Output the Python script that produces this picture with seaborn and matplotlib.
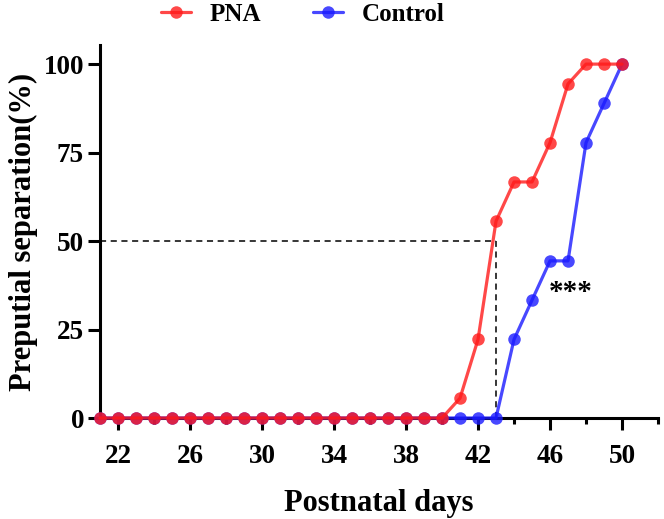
import numpy as np
import pandas as pd
import matplotlib
matplotlib.use('Agg')
import matplotlib.pyplot as plt
import seaborn as sns

# ---- data ----
days = list(range(21, 51))
pna = [0]*20 + [5.6, 22.2, 55.6, 66.7, 66.7, 77.8, 94.4, 100, 100, 100]
control = [0]*23 + [22.2, 33.3, 44.4, 44.4, 77.8, 88.9, 100]
half_day = 43      # day when PNA group reaches 50%
x_ticks = list(range(22, 51, 4))
x_minor = list(range(24, 53, 4))
y_ticks = [0, 25, 50, 75, 100]

df = pd.DataFrame({
    'day': days * 2,
    'pct': control + pna,
    'group': ['Control'] * len(days) + ['PNA'] * len(days),
})

sns.set_style("ticks", {'axes.edgecolor': 'black', 'text.color': 'black',
                        'xtick.color': 'black', 'ytick.color': 'black',
                        'axes.labelcolor': 'black'})
plt.rcParams['font.family'] = ['Liberation Serif', 'DejaVu Serif']
plt.rcParams['font.weight'] = 'bold'

fig = plt.figure(figsize=(6.64, 5.19), dpi=100)
ax = fig.add_axes([0.1506, 0.1946, 0.8404, 0.7187])

palette = {'PNA': '#FF1A1A', 'Control': '#1A1AFF'}
sns.lineplot(data=df, x='day', y='pct', hue='group', hue_order=['Control', 'PNA'],
             palette=palette, marker='o', markersize=9, markeredgewidth=0,
             linewidth=2.3, alpha=0.8, ax=ax, clip_on=False, zorder=3)

# dashed guide lines at 50%
ax.plot([21, half_day], [50, 50], color='black', ls=(0, (4, 3)), lw=1.1, zorder=2)
ax.plot([half_day, half_day], [0, 50], color='black', ls=(0, (4, 3)), lw=1.1, zorder=2)

ax.text(47.15, 35.4, '***', ha='center', va='center', fontsize=21, fontweight='bold')

ax.set_xlim(21, 52)
ax.set_ylim(0, 105.4)
ax.set_xticks(x_ticks)
ax.set_xticks(x_minor, minor=True)
ax.set_yticks(y_ticks)
ax.tick_params(axis='both', which='major', length=8.5, width=2.2, labelsize=19.5)
ax.tick_params(axis='x', which='major', pad=10.5)
ax.tick_params(axis='y', which='major', pad=3)
ax.tick_params(axis='x', which='minor', length=4.5, width=2.2)
for lab in ax.get_xticklabels() + ax.get_yticklabels():
    lab.set_fontweight('bold')

sns.despine(ax=ax)
for s in ['left', 'bottom']:
    ax.spines[s].set_linewidth(2.2)

ax.set_xlabel('Postnatal days', fontsize=22, fontweight='bold', labelpad=14)
ax.set_ylabel('Preputial separation(%)', fontsize=22, fontweight='bold', labelpad=4)

handles, labels = ax.get_legend_handles_labels()
ax.get_legend().remove()
order = [labels.index('PNA'), labels.index('Control')]
fig.legend([handles[i] for i in order], [labels[i] for i in order],
           loc='center', bbox_to_anchor=(0.456, 0.972), ncol=2, frameon=False,
           prop={'size': 18, 'weight': 'bold'}, handlelength=1.2,
           handletextpad=0.75, columnspacing=2.1)

plt.savefig('out.png', dpi=100)
plt.close()
